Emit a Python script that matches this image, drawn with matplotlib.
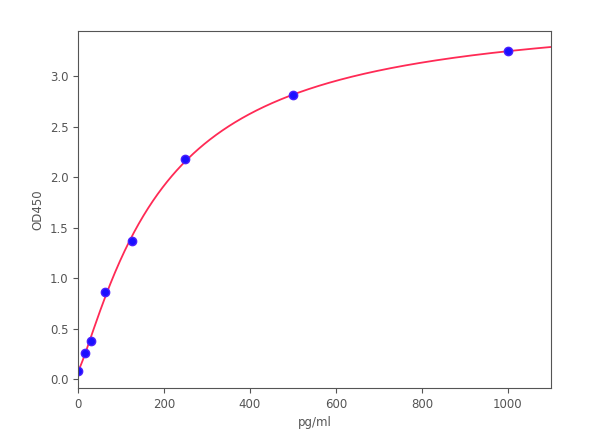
import numpy as np
import matplotlib
matplotlib.use('Agg')
import matplotlib.pyplot as plt

conc = [0, 15.6, 31.25, 62.5, 125, 250, 500, 1000]
od450 = [0.08, 0.26, 0.38, 0.86, 1.37, 2.18, 2.81, 3.25]
xticks = [0, 200, 400, 600, 800, 1000]
yticks = [0.0, 0.5, 1.0, 1.5, 2.0, 2.5, 3.0]

x = np.array(conc, dtype=float)
y = np.array(od450, dtype=float)


def four_pl(p, xx):
    a, b, c, d = p
    return d + (a - d) / (1 + (np.abs(xx) / c) ** b)


# simple Levenberg-Marquardt fit of the 4PL curve to the points
p = np.array([0.08, 1.0, 200.0, 3.8])
lam = 1e-2
for it in range(500):
    r = y - four_pl(p, x)
    J = np.zeros((len(x), 4))
    for k in range(4):
        dp = np.zeros(4)
        dp[k] = 1e-6 * max(abs(p[k]), 1)
        J[:, k] = (four_pl(p + dp, x) - four_pl(p - dp, x)) / (2 * dp[k])
    A = J.T @ J
    g = J.T @ r
    step = np.linalg.solve(A + lam * np.diag(np.diag(A)), g)
    pn = p + step
    if pn[2] > 0 and np.sum((y - four_pl(pn, x)) ** 2) < np.sum(r ** 2):
        p = pn
        lam *= 0.5
    else:
        lam *= 4

xs = np.linspace(0, 1100, 600)
ys = four_pl(p, xs)

txt = '#555555'
fig = plt.figure(figsize=(6, 4.41), dpi=100)
ax = fig.add_axes([0.13, 0.12, 0.788, 0.81])
ax.plot(xs, ys, color='#ff2a55', lw=1.3)
ax.plot(x, y, 'o', color='#1a10ff', ms=6, mec='#4a20ff')
ax.set_xlim(0, 1100)
ax.set_ylim(-0.09, 3.45)
ax.set_xticks(xticks)
ax.set_yticks(yticks)
ax.set_xlabel('pg/ml', fontsize=8.5, color=txt)
ax.set_ylabel('OD450', fontsize=8.5, color=txt)
ax.tick_params(labelsize=8.5, labelcolor=txt, color=txt, length=3.5)
for s in ax.spines.values():
    s.set_color('#555555')
fig.savefig('out.png', dpi=100)
